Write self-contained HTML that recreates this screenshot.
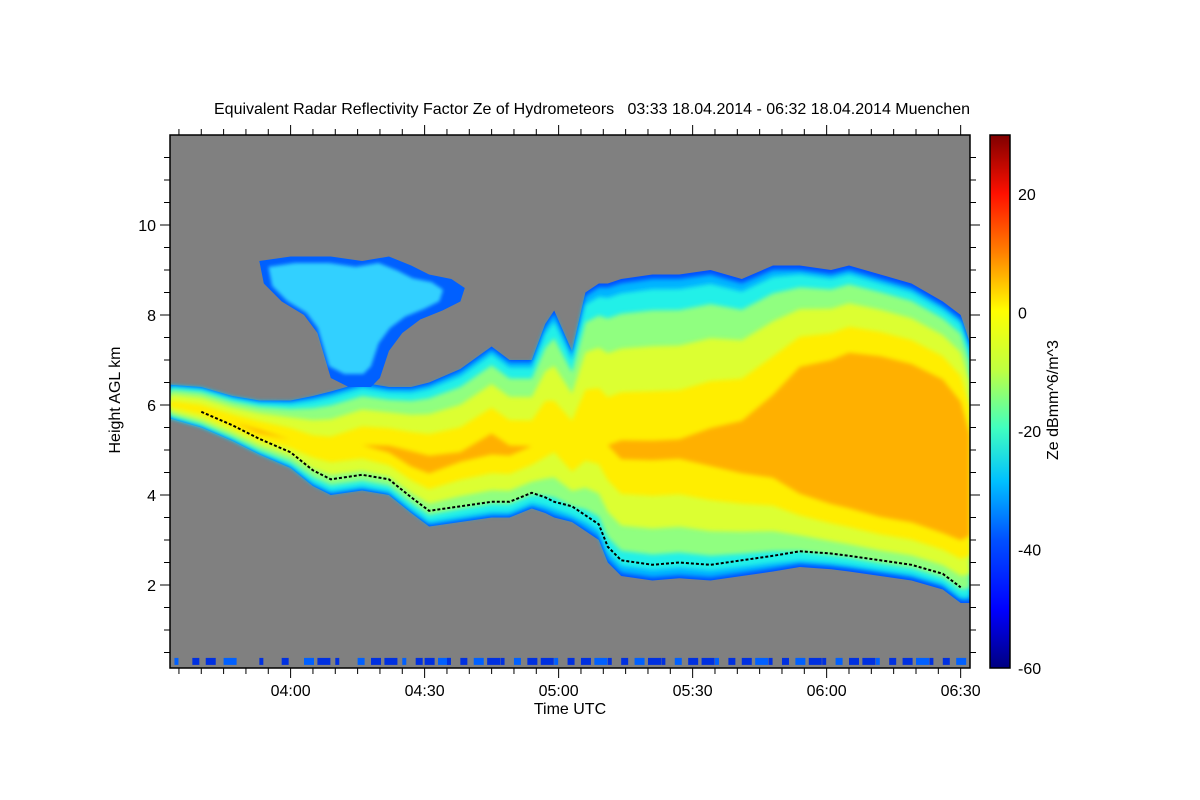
<!DOCTYPE html>
<html><head><meta charset="utf-8"><style>
body{margin:0;background:#fff;}
svg{display:block;font-family:"Liberation Sans",sans-serif;}
</style></head><body>
<svg id="chart" width="1200" height="800" viewBox="0 0 1200 800" xmlns="http://www.w3.org/2000/svg">
<defs>
<filter id="soft" x="-5%" y="-5%" width="110%" height="110%"><feGaussianBlur stdDeviation="2.2"/></filter>
<linearGradient id="jet" x1="0" y1="1" x2="0" y2="0">
<stop offset="0" stop-color="#000080"/><stop offset="0.11" stop-color="#0000ff"/>
<stop offset="0.24" stop-color="#0050ff"/><stop offset="0.35" stop-color="#00c0ff"/>
<stop offset="0.45" stop-color="#40ffc0"/><stop offset="0.56" stop-color="#c0ff40"/>
<stop offset="0.67" stop-color="#ffff00"/><stop offset="0.78" stop-color="#ff8000"/>
<stop offset="0.89" stop-color="#ff1000"/><stop offset="1" stop-color="#800000"/>
</linearGradient>
<clipPath id="plotclip"><rect x="170" y="135" width="800" height="533"/></clipPath>
</defs>
<text x="592" y="114" font-size="16" text-anchor="middle" style="white-space:pre">Equivalent Radar Reflectivity Factor Ze of Hydrometeors   03:33 18.04.2014 - 06:32 18.04.2014 Muenchen</text>
<rect x="170" y="135" width="800" height="533" fill="#808080"/>
<g id="data" clip-path="url(#plotclip)"></g>
<rect x="170" y="135" width="800" height="533" fill="none" stroke="#000" stroke-width="1.5"/>
<g id="axes"></g>
<text x="570" y="714" font-size="16" text-anchor="middle">Time UTC</text>
<text transform="translate(120,400) rotate(-90)" font-size="16" text-anchor="middle">Height AGL km</text>
<rect x="990" y="135" width="20" height="533" fill="url(#jet)" stroke="#000" stroke-width="1.5"/>
<text transform="translate(1058,400) rotate(-90)" font-size="16" text-anchor="middle">Ze dBmm^6/m^3</text>
</svg>
<script>
const minutes=[0,7,14,20,27,32,36,43,49,54,58,65,72,76,81,84,86,90,93,96,98,101,108,114,121,128,135,141,148,152,159,166,173,177,179];
const topKm=[6.45,6.4,6.2,6.1,6.1,6.2,6.3,6.5,6.4,6.4,6.5,6.8,7.3,7.0,7.0,7.8,8.1,7.2,8.5,8.7,8.7,8.8,8.9,8.9,9.0,8.8,9.1,9.1,9.0,9.1,8.9,8.7,8.3,8.0,7.4];
const baseKm=[5.7,5.5,5.2,4.9,4.6,4.2,4.0,4.1,4.0,3.6,3.3,3.4,3.5,3.5,3.7,3.6,3.5,3.4,3.2,3.0,2.5,2.2,2.1,2.15,2.1,2.2,2.3,2.4,2.35,2.3,2.2,2.1,1.9,1.6,1.6];
const peakZe=[-9,-8,-7,-6,-7,-8,-8,-7,-6,-5,-5,-6,-5,-6,-7,-7,-8,-7,-7,-7,-7,-6,-6,-6,-5,-4,-2,2,4,5,6,6,6,4,1];
const anvilMin=[20,27,36,43,49,54,58,63,66,65,61,56,52,49,47,45,40,36,33,30,25,21];
const anvilKm=[9.2,9.3,9.3,9.2,9.3,9.1,8.9,8.8,8.6,8.3,8.1,7.9,7.6,7.2,6.6,6.4,6.4,6.6,7.6,8.0,8.3,8.7];
const xTickLabels=["04:00","04:30","05:00","05:30","06:00","06:30"];
const xTickMin=[27,57,87,117,147,177];
const yTicks=[2,4,6,8,10];
const cbTicks=[-60,-40,-20,0,20];
const thresholds=[-40,-30,-22,-15,-8,-2,3];
const layerColors=["#0050ff","#00b4ff","#20f0e8","#90ff80","#dcff30","#ffee00","#ffb000"];

const X=m=>170+m*4.467;
const Y=km=>675-km*45;
const CB=z=>668-(z+60)*533/90;
const NS="http://www.w3.org/2000/svg";
const data=document.getElementById('data'), axes=document.getElementById('axes');
function mk(tag,attrs,parent){const e=document.createElementNS(NS,tag);for(const k in attrs)e.setAttribute(k,attrs[k]);parent.appendChild(e);return e;}

thresholds.forEach((t,li)=>{
  const up=[],dn=[];
  minutes.forEach((m,i)=>{
    const c=baseKm[i]+0.42*(topKm[i]-baseKm[i]);
    let f=Math.pow((t+42)/(peakZe[i]+52),3);
    if(li===0)f=0;
    else f=Math.max(f,0.025*li);
    f=Math.min(1,Math.max(0,f));
    up.push(X(m).toFixed(1)+","+Y(topKm[i]-(topKm[i]-c)*f).toFixed(1));
    dn.unshift(X(m).toFixed(1)+","+Y(baseKm[i]+(c-baseKm[i])*f).toFixed(1));
  });
  const p=mk('polygon',{points:up.concat(dn).join(' '),fill:layerColors[li]},data);
  if(li>0)p.setAttribute('filter','url(#soft)');
  
  
});
const apts=anvilMin.map((m,i)=>X(m).toFixed(1)+","+Y(anvilKm[i]).toFixed(1)).join(' ');
const an=mk('polygon',{points:apts,fill:"#0060ff"},data);


const an2=mk('polygon',{points:apts,fill:"#30d0ff",transform:"translate(320,300) scale(0.85) translate(-320,-300)",filter:"url(#soft)"},data);


const bl=minutes.slice(1,-1).map((m,j)=>{const i=j+1;return X(m).toFixed(1)+","+Y(baseKm[i]+0.35).toFixed(1);}).join(' ');
const bline=mk('polyline',{points:bl,fill:"none",stroke:"#000","stroke-width":2,"stroke-dasharray":"3 2"},data);


const clutterMin=[1,5,8,12,20,25,30,33,37,42,45,48,52,55,57,60,62,65,68,71,74,77,80,83,86,89,92,95,98,101,104,107,110,113,116,119,122,125,128,131,134,137,140,143,146,149,152,155,158,161,164,167,170,173,176];
clutterMin.forEach((m,i)=>{
  const r=mk('rect',{x:X(m),y:Y(0.38),width:4+(i%4)*3,height:7,fill:i%3?"#0030e0":"#0060ff"},data);
  
  
});
for(let m=-3;m<=179;m+=5){const x=X(m);if(x<170)continue;const major=xTickMin.includes(m);const L=major?10:6;
  mk('line',{x1:x,y1:668,x2:x,y2:668+L,stroke:"#000"},axes);mk('line',{x1:x,y1:135,x2:x,y2:135-L,stroke:"#000"},axes);}
xTickLabels.forEach((s,i)=>{const t=mk('text',{x:X(xTickMin[i]),y:696,"font-size":16,"text-anchor":"middle"},axes);t.textContent=s;
  });
for(let k=0.5;k<=11.9;k+=0.5){const y=Y(k);if(y>668)continue;const major=(k%2===0);const L=major?10:6;
  mk('line',{x1:170,y1:y,x2:170-L,y2:y,stroke:"#000"},axes);mk('line',{x1:970,y1:y,x2:970+L,y2:y,stroke:"#000"},axes);}
yTicks.forEach(v=>{const t=mk('text',{x:156,y:Y(v)+6,"font-size":16,"text-anchor":"end"},axes);t.textContent=v;
  });
for(let z=-55;z<30;z+=5){const y=CB(z);mk('line',{x1:1010,y1:y,x2:1006,y2:y,stroke:"#000"},axes);}
cbTicks.forEach(v=>{const t=mk('text',{x:1018,y:CB(v)+6,"font-size":16},axes);t.textContent=v;
  });
</script>
</body></html>
